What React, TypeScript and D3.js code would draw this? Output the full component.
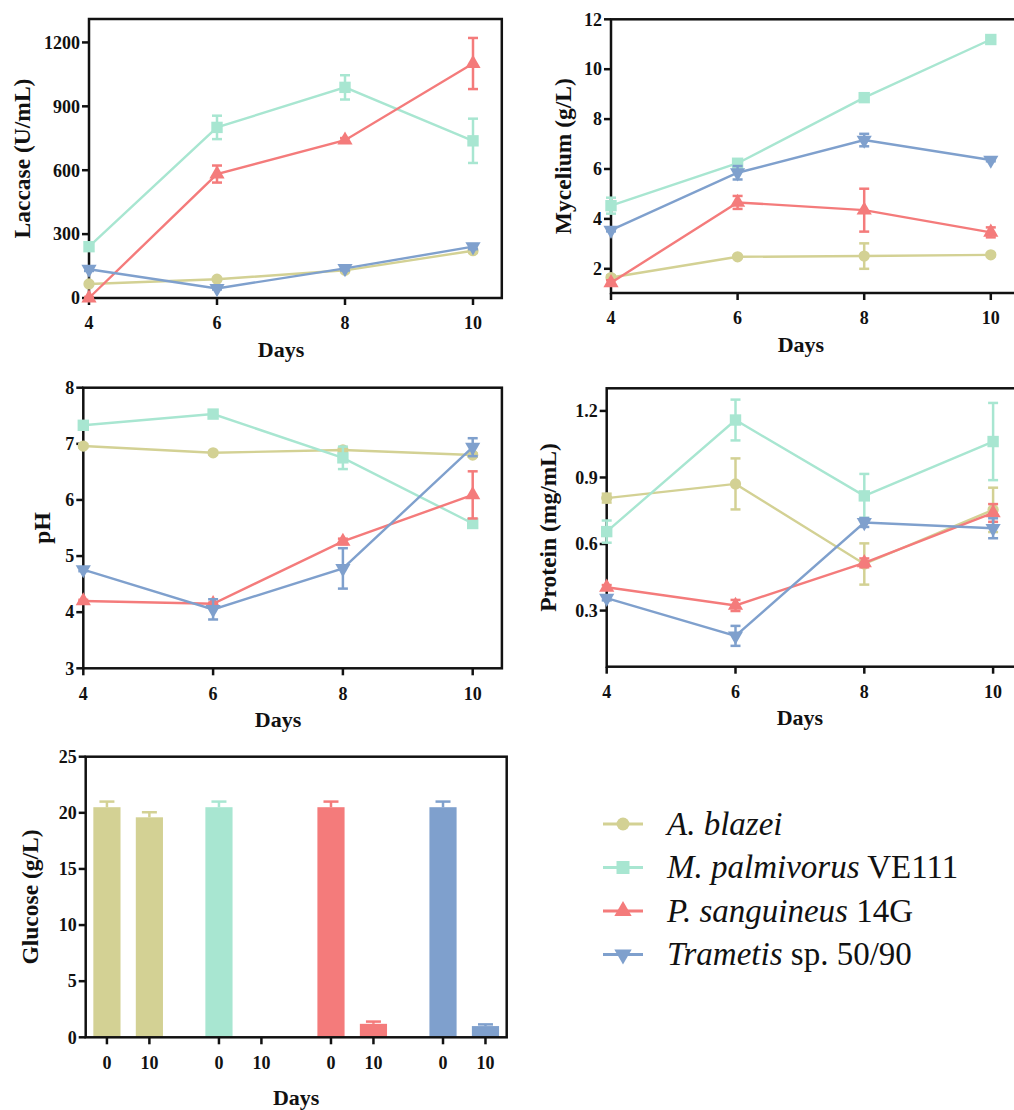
import React from "react";
import * as d3 from "d3";

const days = [4, 6, 8, 10];
const speciesNames = ["A. blazei", "M. palmivorus", "P. sanguineus", "Trametis"];
const speciesSuffix = ["", " VE111", " 14G", " sp. 50/90"];
const colors = ["#D3D194", "#A8E6D1", "#F47B7B", "#7FA0CD"];

const laccaseMean = [
  [66, 88, 130, 222],
  [241, 801, 989, 738],
  [0, 582, 741, 1101],
  [135, 45, 139, 241],
];
const laccaseErr = [
  [5, 5, 8, 10],
  [12, 55, 57, 104],
  [5, 40, 10, 120],
  [8, 5, 10, 12],
];

const myceliumMean = [
  [1.65, 2.48, 2.51, 2.56],
  [4.53, 6.23, 8.86, 11.19],
  [1.44, 4.66, 4.35, 3.46],
  [3.55, 5.85, 7.16, 6.36],
];
const myceliumErr = [
  [0.08, 0.05, 0.51, 0.05],
  [0.32, 0.1, 0.1, 0.1],
  [0.1, 0.26, 0.86, 0.2],
  [0.05, 0.27, 0.25, 0.05],
];

const phMean = [
  [6.96, 6.84, 6.89, 6.8],
  [7.33, 7.53, 6.75, 5.58],
  [4.2, 4.15, 5.26, 6.09],
  [4.76, 4.05, 4.78, 6.94],
];
const phErr = [
  [0.03, 0.03, 0.03, 0.03],
  [0.03, 0.03, 0.2, 0.05],
  [0.02, 0.02, 0.05, 0.42],
  [0.03, 0.18, 0.36, 0.16],
];

const proteinMean = [
  [0.807, 0.871, 0.51, 0.754],
  [0.656, 1.159, 0.817, 1.062],
  [0.405, 0.323, 0.515, 0.74],
  [0.356, 0.186, 0.697, 0.671],
];
const proteinErr = [
  [0.02, 0.115, 0.093, 0.1],
  [0.05, 0.092, 0.099, 0.174],
  [0.01, 0.025, 0.02, 0.04],
  [0.01, 0.045, 0.02, 0.045],
];

const glucoseDays = ["0", "10"];
const glucoseMean = [
  [20.5, 19.6],
  [20.5, 0],
  [20.5, 1.2],
  [20.5, 1.0],
];
const glucoseErr = [
  [0.5, 0.45],
  [0.5, 0],
  [0.5, 0.2],
  [0.5, 0.15],
];

const FONT = '"Liberation Serif", "Times New Roman", "DejaVu Serif", serif';
const symbolTypes = [d3.symbolCircle, d3.symbolSquare, d3.symbolTriangle, d3.symbolTriangle];
const symbolSizes = [100, 130, 100, 100];

const boldText = { fontFamily: FONT, fontWeight: 700 } as React.CSSProperties;

function Marker({ i, x, y, scale = 1 }: { i: number; x: number; y: number; scale?: number }) {
  const path = d3.symbol().type(symbolTypes[i]).size(symbolSizes[i] * scale)() as string;
  const rot = i === 3 ? " rotate(180)" : "";
  return <path d={path} transform={`translate(${x},${y})${rot}`} fill={colors[i]} />;
}

type LineProps = {
  left: number;
  top: number;
  bottom: number;
  pxPerDay: number;
  yDomain: [number, number];
  yTicks: number[];
  yFmt: (v: number) => string;
  means: number[][];
  errs: number[][];
  ylabel: string;
  ylabelX: number;
};

function LinePanel(p: LineProps) {
  const x = d3.scaleLinear().domain([4, 10]).range([p.left, p.left + 6 * p.pxPerDay]);
  const right = x(10.45);
  const y = d3.scaleLinear().domain(p.yDomain).range([p.bottom, p.top]);
  const line = d3
    .line<number>()
    .x((_, k) => x(days[k]))
    .y((v) => y(v));
  const cap = 5;
  return (
    <g>
      <rect x={p.left} y={p.top} width={right - p.left} height={p.bottom - p.top} fill="none" stroke="#111" strokeWidth={2.5} />
      {p.yTicks.map((t) => (
        <g key={"yt" + t}>
          <line x1={p.left - 7} x2={p.left} y1={y(t)} y2={y(t)} stroke="#111" strokeWidth={2.5} />
          <text x={p.left - 9} y={y(t)} dy="0.35em" textAnchor="end" style={boldText} fontSize={18} fill="#111">
            {p.yFmt(t)}
          </text>
        </g>
      ))}
      {days.map((d) => (
        <g key={"xt" + d}>
          <line x1={x(d)} x2={x(d)} y1={p.bottom} y2={p.bottom + 7} stroke="#111" strokeWidth={2.5} />
          <text x={x(d)} y={p.bottom + 25} dy="0.35em" textAnchor="middle" style={boldText} fontSize={18} fill="#111">
            {d}
          </text>
        </g>
      ))}
      <text x={x(7)} y={p.bottom + 51} dy="0.35em" textAnchor="middle" style={boldText} fontSize={22} fill="#111">
        Days
      </text>
      <text
        transform={`translate(${p.ylabelX},${(p.top + p.bottom) / 2}) rotate(-90)`}
        dy="0.35em"
        textAnchor="middle"
        style={boldText}
        fontSize={23.5}
        fill="#111"
      >
        {p.ylabel}
      </text>
      {p.means.map((ser, i) => (
        <g key={"s" + i}>
          <path d={line(ser) as string} fill="none" stroke={colors[i]} strokeWidth={2.4} />
          {ser.map((v, k) => {
            const e = p.errs[i][k];
            const y1 = y(v + e);
            const y2 = y(v - e);
            const cx = x(days[k]);
            return (
              <g key={"e" + k} stroke={colors[i]} strokeWidth={2.5}>
                <line x1={cx} x2={cx} y1={y1} y2={y2} />
                <line x1={cx - cap} x2={cx + cap} y1={y1} y2={y1} />
                <line x1={cx - cap} x2={cx + cap} y1={y2} y2={y2} />
              </g>
            );
          })}
          {ser.map((v, k) => (
            <Marker key={"m" + k} i={i} x={x(days[k])} y={y(v)} />
          ))}
        </g>
      ))}
    </g>
  );
}

function GlucosePanel() {
  const left = 85.7,
    right = 506.7,
    top = 756.7,
    bottom = 1037.3;
  const y = d3.scaleLinear().domain([0, 25]).range([bottom, top]);
  const outer = d3.scaleBand<number>().domain([0, 1, 2, 3]).range([left, right]).paddingInner(0.242).paddingOuter(0);
  const inner = d3.scaleBand<string>().domain(glucoseDays).range([0, outer.bandwidth()]).paddingInner(0.36).paddingOuter(0.18);
  const yTicks = [0, 5, 10, 15, 20, 25];
  const cap = 7.5;
  return (
    <g>
      {glucoseMean.map((ser, i) =>
        ser.map((v, k) => {
          const bx = (outer(i) as number) + (inner(glucoseDays[k]) as number);
          const bw = inner.bandwidth();
          const cx = bx + bw / 2;
          const e = glucoseErr[i][k];
          return (
            <g key={`b${i}-${k}`}>
              <rect x={bx} y={y(v)} width={bw} height={bottom - y(v)} fill={colors[i]} />
              {e > 0 && (
                <g stroke={colors[i]} strokeWidth={2.5}>
                  <line x1={cx} x2={cx} y1={y(v)} y2={y(v + e)} />
                  <line x1={cx - cap} x2={cx + cap} y1={y(v + e)} y2={y(v + e)} />
                </g>
              )}
              <line x1={cx} x2={cx} y1={bottom} y2={bottom + 7} stroke="#111" strokeWidth={2.5} />
              <text x={cx} y={bottom + 25} dy="0.35em" textAnchor="middle" style={boldText} fontSize={18} fill="#111">
                {glucoseDays[k]}
              </text>
            </g>
          );
        })
      )}
      <rect x={left} y={top} width={right - left} height={bottom - top} fill="none" stroke="#111" strokeWidth={2.5} />
      {yTicks.map((t) => (
        <g key={"gy" + t}>
          <line x1={left - 7} x2={left} y1={y(t)} y2={y(t)} stroke="#111" strokeWidth={2.5} />
          <text x={left - 9} y={y(t)} dy="0.35em" textAnchor="end" style={boldText} fontSize={18} fill="#111">
            {t}
          </text>
        </g>
      ))}
      <text x={(left + right) / 2} y={1097} dy="0.35em" textAnchor="middle" style={boldText} fontSize={22} fill="#111">
        Days
      </text>
      <text
        transform={`translate(30,${(top + bottom) / 2}) rotate(-90)`}
        dy="0.35em"
        textAnchor="middle"
        style={boldText}
        fontSize={23.5}
        fill="#111"
      >
        Glucose (g/L)
      </text>
    </g>
  );
}

function Legend() {
  const x0 = 603,
    x1 = 643,
    y0 = 824,
    step = 43.5;
  return (
    <g>
      {speciesNames.map((n, i) => {
        const cy = y0 + i * step;
        return (
          <g key={"l" + i}>
            <line x1={x0} x2={x1} y1={cy} y2={cy} stroke={colors[i]} strokeWidth={3} />
            <Marker i={i} x={(x0 + x1) / 2} y={cy} scale={1.3} />
            <text x={667} y={cy} dy="0.33em" style={{ fontFamily: FONT }} fontSize={33} fill="#111">
              <tspan fontStyle="italic">{n}</tspan>
              {speciesSuffix[i]}
            </text>
          </g>
        );
      })}
    </g>
  );
}

export default function App() {
  return (
    <svg width={1014} height={1110} style={{ position: "absolute", left: 0, top: 0, background: "#fff" }}>
      <rect x={0} y={0} width={1014} height={1110} fill="#fff" />
      <LinePanel
        left={89}
        top={19}
        bottom={298}
        pxPerDay={64}
        yDomain={[0, 1310]}
        yTicks={[0, 300, 600, 900, 1200]}
        yFmt={(v) => String(v)}
        means={laccaseMean}
        errs={laccaseErr}
        ylabel="Laccase (U/mL)"
        ylabelX={22}
      />
      <LinePanel
        left={611}
        top={19.3}
        bottom={293}
        pxPerDay={63.3}
        yDomain={[1.03, 12]}
        yTicks={[2, 4, 6, 8, 10, 12]}
        yFmt={(v) => String(v)}
        means={myceliumMean}
        errs={myceliumErr}
        ylabel="Mycelium (g/L)"
        ylabelX={563}
      />
      <LinePanel
        left={83.3}
        top={387.7}
        bottom={668.3}
        pxPerDay={64.9}
        yDomain={[3, 8]}
        yTicks={[3, 4, 5, 6, 7, 8]}
        yFmt={(v) => String(v)}
        means={phMean}
        errs={phErr}
        ylabel="pH"
        ylabelX={42}
      />
      <LinePanel
        left={606.7}
        top={388.3}
        bottom={666.7}
        pxPerDay={64.4}
        yDomain={[0.047, 1.302]}
        yTicks={[0.3, 0.6, 0.9, 1.2]}
        yFmt={(v) => d3.format(".1f")(v)}
        means={proteinMean}
        errs={proteinErr}
        ylabel="Protein (mg/mL)"
        ylabelX={548}
      />
      <GlucosePanel />
      <Legend />
    </svg>
  );
}
